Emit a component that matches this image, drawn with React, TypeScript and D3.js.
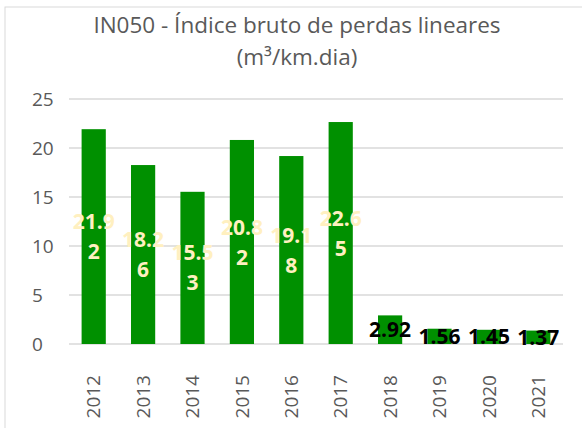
import * as d3 from 'd3';

const years = ['2012', '2013', '2014', '2015', '2016', '2017', '2018', '2019', '2020', '2021'];
const values = [21.92, 18.26, 15.53, 20.82, 19.18, 22.65, 2.92, 1.56, 1.45, 1.37];
const yTicks = [0, 5, 10, 15, 20, 25];
const titleLines = ['IN050 - Índice bruto de perdas lineares', '(m³/km.dia)'];

const font = '"Open Sans", "Noto Sans", sans-serif';
const grey = '#595959';

export default function App() {
  const width = 582;
  const height = 428;

  const x = d3
    .scaleBand<string>()
    .domain(years)
    .range([69, 563])
    .paddingInner(0.51)
    .paddingOuter(0.255);

  const y = d3.scaleLinear().domain([0, 25]).range([344, 99]);

  return (
    <svg
      width={width}
      height={height}
      viewBox={`0 0 ${width} ${height}`}
      style={{ position: 'absolute', left: 0, top: 0, background: '#fff' }}
    >
      <rect x={5} y={7} width={600} height={440} fill="#fff" stroke="#d9d9d9" strokeWidth={1} />

      {titleLines.map((t, i) => (
        <text
          key={t}
          x={297}
          y={33 + i * 32}
          textAnchor="middle"
          fontFamily={font}
          fontSize={22.5}
          fill={grey}
        >
          {t}
        </text>
      ))}

      {yTicks.map((t) => (
        <g key={t}>
          <line x1={69} x2={563} y1={y(t)} y2={y(t)} stroke="#d9d9d9" strokeWidth={1.5} />
          <text
            x={32}
            y={y(t)}
            dy="0.35em"
            fontFamily={font}
            fontSize={19}
            fill={grey}
          >
            {t}
          </text>
        </g>
      ))}

      {years.map((yr, i) => {
        const v = values[i];
        const bx = x(yr) as number;
        const bw = x.bandwidth();
        const cx = bx + bw / 2;
        const top = y(v);
        const mid = (top + y(0)) / 2;
        const label = v.toFixed(2);
        const wrap = label.length > 4;
        return (
          <g key={yr}>
            <rect x={bx} y={top} width={bw} height={y(0) - top} fill="#009000" />
            {wrap ? (
              <text
                textAnchor="middle"
                fontFamily={font}
                fontSize={21}
                fontWeight="bold"
                fill="#fff0c0"
              >
                <tspan x={cx} y={mid - 15} dy="0.36em">{label.slice(0, 4)}</tspan>
                <tspan x={cx} y={mid + 15} dy="0.36em">{label.slice(4)}</tspan>
              </text>
            ) : (
              <text
                x={cx}
                y={mid}
                dy="0.36em"
                textAnchor="middle"
                fontFamily={font}
                fontSize={21}
                fontWeight="bold"
                fill="#000"
              >
                {label}
              </text>
            )}
            <text
              transform={`translate(${cx},375) rotate(-90)`}
              dy="0.35em"
              textAnchor="end"
              fontFamily={font}
              fontSize={19}
              fill={grey}
            >
              {yr}
            </text>
          </g>
        );
      })}
    </svg>
  );
}
